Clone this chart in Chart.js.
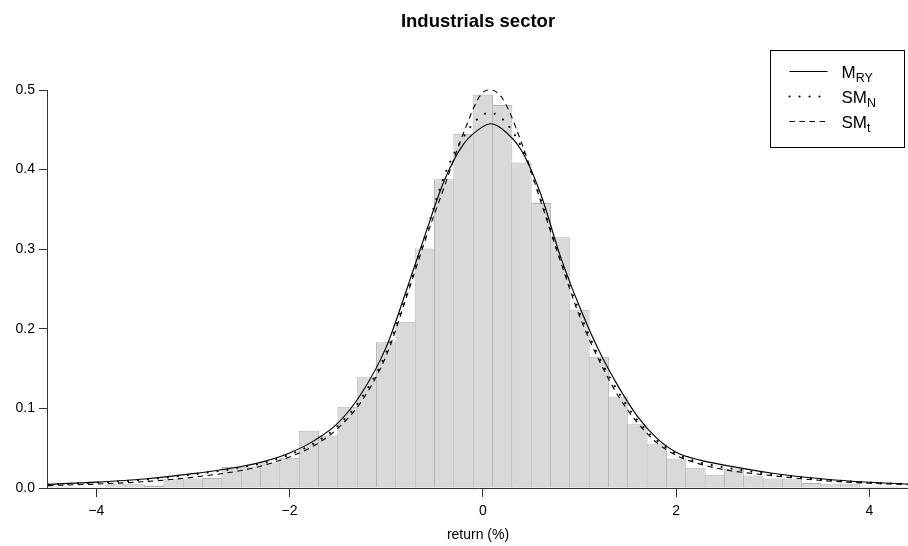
<!DOCTYPE html>
<html><head><meta charset="utf-8">
<script src="https://cdn.jsdelivr.net/npm/chart.js@4.4.1/dist/chart.umd.min.js"></script>
<style>html,body{margin:0;padding:0;background:#fff;overflow:hidden}#wrap{position:relative;width:908px;height:546px}</style>
</head><body><div id="wrap"><canvas id="c" width="908" height="546"></canvas></div>
<script>
// Histogram bins (width 0.2, centres) and densities
const binCenters = [-4.4,-4.2,-4.0,-3.8,-3.6,-3.4,-3.2,-3.0,-2.8,-2.6,-2.4,-2.2,-2.0,-1.8,-1.6,-1.4,-1.2,-1.0,-0.8,-0.6,-0.4,-0.2,0.0,0.2,0.4,0.6,0.8,1.0,1.2,1.4,1.6,1.8,2.0,2.2,2.4,2.6,2.8,3.0,3.2,3.4,3.6,3.8,4.0,4.2,4.4];
const binDensity = [0.002,0.0017,0.001,0.0046,0.0046,0.003,0.011,0.012,0.0125,0.0265,0.027,0.032,0.038,0.072,0.066,0.102,0.139,0.183,0.209,0.301,0.388,0.445,0.494,0.481,0.409,0.358,0.315,0.224,0.165,0.115,0.080,0.055,0.037,0.0255,0.0165,0.0245,0.0158,0.012,0.011,0.0063,0.0046,0.0054,0.002,0.002,0.0017];
// Fitted density curves, read at these x positions
const curveX = [-4.5,-4.0,-3.5,-3.0,-2.5,-2.25,-2.0,-1.75,-1.5,-1.25,-1.0,-0.8,-0.6,-0.4,-0.2,0.0,0.08,0.2,0.4,0.6,0.8,1.0,1.2,1.4,1.6,1.8,2.0,2.25,2.5,3.0,3.5,4.0,4.5];
const mryY = [0.0046,0.0073,0.0113,0.018,0.027,0.0338,0.044,0.0592,0.0815,0.120,0.177,0.245,0.317,0.386,0.432,0.454,0.4576,0.451,0.424,0.369,0.292,0.228,0.173,0.128,0.090,0.0626,0.045,0.035,0.0287,0.0186,0.0116,0.0072,0.0045];
const smnY = [0.0045,0.0068,0.0105,0.017,0.026,0.032,0.042,0.056,0.078,0.114,0.170,0.240,0.315,0.392,0.441,0.469,0.471,0.464,0.428,0.362,0.288,0.221,0.165,0.121,0.085,0.060,0.043,0.032,0.026,0.0172,0.011,0.0068,0.0044];
const smtY = [0.003,0.005,0.008,0.0135,0.022,0.029,0.039,0.053,0.075,0.110,0.166,0.236,0.310,0.378,0.446,0.497,0.500,0.490,0.434,0.360,0.286,0.216,0.161,0.116,0.082,0.057,0.041,0.030,0.023,0.0155,0.0095,0.006,0.004];
const xTicks = [-4,-2,0,2,4];
const xTickLabels = ['\u22124','\u22122','0','2','4'];
const yTicks = [0,0.1,0.2,0.3,0.4,0.5];
const yTickLabels = ['0.0','0.1','0.2','0.3','0.4','0.5'];
const seriesNames = [['M','RY'],['SM','N'],['SM','t']];
const titleText = 'Industrials sector';
const xTitle = 'return (%)';

const FONT = "'Liberation Sans', Arial, Helvetica, sans-serif";
Chart.defaults.font.family = FONT;
Chart.defaults.color = '#000';

const dashes = [[], [0.01, 10], [5.5, 4.5]];
const widths = [1.15, 2.1, 1.1];
const caps = ['butt', 'round', 'butt'];

const yAxisLine = {
  id: 'yAxisLine',
  afterDraw(chart) {
    const {ctx, scales: {y}, chartArea} = chart;
    ctx.save();
    ctx.strokeStyle = '#333';
    ctx.lineWidth = 1;
    ctx.beginPath();
    const x = Math.round(chartArea.left) - 0.5;
    ctx.moveTo(x, y.getPixelForValue(yTicks[0]));
    ctx.lineTo(x, y.getPixelForValue(yTicks[yTicks.length - 1]));
    ctx.stroke();
    ctx.restore();
  }
};

const rLegend = {
  id: 'rLegend',
  afterDraw(chart) {
    const {ctx, chartArea} = chart;
    ctx.save();
    const r = Math.round(chartArea.right) - 3.5, t = Math.round(chartArea.top) + 0.5;
    const l = r - 134, b = t + 97;
    ctx.fillStyle = '#fff';
    ctx.fillRect(l, t, r - l, b - t);
    ctx.strokeStyle = '#000';
    ctx.lineWidth = 1;
    ctx.strokeRect(l, t, r - l, b - t);
    seriesNames.forEach((nm, i) => {
      const yy = t + 21 + i * 25;
      ctx.beginPath();
      ctx.setLineDash(dashes[i]);
      ctx.lineCap = caps[i];
      ctx.lineWidth = widths[i];
      ctx.moveTo(l + 19, yy);
      ctx.lineTo(l + 57, yy);
      ctx.stroke();
      ctx.setLineDash([]);
      ctx.fillStyle = '#000';
      ctx.textBaseline = 'alphabetic';
      ctx.font = '17px ' + FONT;
      const tx = l + 71;
      ctx.fillText(nm[0], tx, yy + 6);
      const w = ctx.measureText(nm[0]).width;
      ctx.font = '12.5px ' + FONT;
      ctx.fillText(nm[1], tx + w, yy + 10);
    });
    ctx.restore();
  }
};

const lineDs = (label, ys, i) => ({
  type: 'line', label, data: curveX.map((x, k) => ({x, y: ys[k]})),
  borderColor: '#000', borderWidth: widths[i], borderDash: dashes[i], borderCapStyle: caps[i],
  pointRadius: 0, cubicInterpolationMode: 'monotone', fill: false, order: 1
});

new Chart(document.getElementById('c'), {
  type: 'bar',
  data: {
    datasets: [
      lineDs('MRY', mryY, 0),
      lineDs('SMN', smnY, 1),
      lineDs('SMt', smtY, 2),
      {
        type: 'bar', label: 'hist', data: binCenters.map((x, k) => ({x, y: binDensity[k]})),
        backgroundColor: '#d9d9d9', borderColor: '#b5b5b5', borderWidth: 1, borderSkipped: false,
        barPercentage: 1.052, categoryPercentage: 1, order: 10
      }
    ]
  },
  options: {
    responsive: false, animation: false, devicePixelRatio: 1,
    layout: {padding: 0},
    plugins: {
      legend: {display: false}, tooltip: {enabled: false},
      title: {display: true, text: titleText, fullSize: false, color: '#000',
        font: {size: 18.5, weight: 'bold', family: FONT}, padding: {top: 11, bottom: 17}}
    },
    scales: {
      x: {
        type: 'linear', min: -4.5, max: 4.4, offset: false,
        afterBuildTicks: s => { s.ticks = xTicks.map(v => ({value: v})); },
        afterFit: s => { s.height = 58; },
        ticks: {callback: v => xTickLabels[xTicks.indexOf(v)], autoSkip: false, maxRotation: 0,
          font: {size: 14}, color: '#000', padding: 6},
        grid: {display: true, drawOnChartArea: false, drawTicks: true, tickLength: 9, color: '#333', offset: false},
        border: {display: true, color: '#333', width: 1},
        title: {display: true, text: xTitle, font: {size: 14}, color: '#000', padding: {top: 0, bottom: 2}}
      },
      y: {
        type: 'linear', min: 0, max: 0.55,
        afterBuildTicks: s => { s.ticks = yTicks.map(v => ({value: v})); },
        afterFit: s => { s.width = 48; },
        ticks: {callback: v => yTickLabels[yTicks.indexOf(v)], font: {size: 14}, color: '#000', padding: 4},
        grid: {display: true, drawOnChartArea: false, drawTicks: true, tickLength: 9, color: '#333'},
        border: {display: false}
      }
    }
  },
  plugins: [yAxisLine, rLegend]
});
</script></body></html>
